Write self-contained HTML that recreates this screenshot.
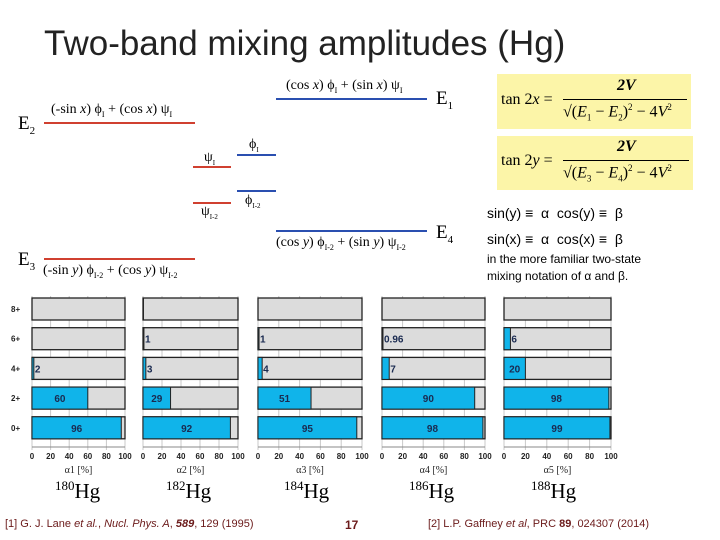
<!DOCTYPE html>
<html><head><meta charset="utf-8"><style>
body{margin:0;width:720px;height:540px;background:#fff;overflow:hidden;position:relative;font-family:"Liberation Sans",sans-serif}
.a{position:absolute;white-space:nowrap}
.s{font-family:"Liberation Serif",serif}
.ln{position:absolute;height:2px}
.box{position:absolute;background:#fcf5a8;font-family:"Liberation Serif",serif;font-size:16px}
</style></head><body>
<div class="a" style="left:44px;top:24px;font-size:35px;color:#222">Two-band mixing amplitudes (Hg)</div>

<div class="ln" style="left:276px;top:98px;width:151px;background:#2a4fb0"></div>
<div class="a s" style="left:286px;top:78px;font-size:14px">(cos <i>x</i>) ϕ<sub style="font-size:8px">I</sub> + (sin <i>x</i>) ψ<sub style="font-size:8px">I</sub></div>
<div class="a s" style="left:436px;top:88px;font-size:19px">E<sub style="font-size:11px">1</sub></div>

<div class="ln" style="left:44px;top:122px;width:151px;background:#d04030"></div>
<div class="a s" style="left:51px;top:102px;font-size:14px">(-sin <i>x</i>) ϕ<sub style="font-size:8px">I</sub> + (cos <i>x</i>) ψ<sub style="font-size:8px">I</sub></div>
<div class="a s" style="left:18px;top:113px;font-size:19px">E<sub style="font-size:11px">2</sub></div>

<div class="ln" style="left:237px;top:154px;width:39px;background:#2a4fb0"></div>
<div class="a s" style="left:249px;top:137px;font-size:14px">ϕ<sub style="font-size:7px">I</sub></div>
<div class="ln" style="left:193px;top:166px;width:38px;background:#d04030"></div>
<div class="a s" style="left:204px;top:150px;font-size:14px">ψ<sub style="font-size:7px">I</sub></div>
<div class="ln" style="left:237px;top:190px;width:39px;background:#2a4fb0"></div>
<div class="a s" style="left:245px;top:193px;font-size:14px">ϕ<sub style="font-size:7px">I-2</sub></div>
<div class="ln" style="left:193px;top:202px;width:38px;background:#d04030"></div>
<div class="a s" style="left:201px;top:204px;font-size:14px">ψ<sub style="font-size:7px">I-2</sub></div>

<div class="ln" style="left:276px;top:230px;width:151px;background:#2a4fb0"></div>
<div class="a s" style="left:276px;top:235px;font-size:14px">(cos <i>y</i>) ϕ<sub style="font-size:8px">I-2</sub> + (sin <i>y</i>) ψ<sub style="font-size:8px">I-2</sub></div>
<div class="a s" style="left:436px;top:222px;font-size:19px">E<sub style="font-size:11px">4</sub></div>

<div class="ln" style="left:44px;top:258px;width:151px;background:#d04030"></div>
<div class="a s" style="left:43px;top:263px;font-size:14px">(-sin <i>y</i>) ϕ<sub style="font-size:8px">I-2</sub> + (cos <i>y</i>) ψ<sub style="font-size:8px">I-2</sub></div>
<div class="a s" style="left:18px;top:249px;font-size:19px">E<sub style="font-size:11px">3</sub></div>

<div class="box" style="left:497px;top:74px;width:194px;height:55px">
<span class="a" style="left:4px;top:17px">tan 2<i>x</i> =</span>
<span class="a" style="left:120px;top:3px;font-weight:bold;font-style:italic">2V</span>
<span class="a" style="left:66px;top:25px;width:124px;border-top:1px solid #000"></span>
<span class="a" style="left:66px;top:28px">√(<i>E</i><sub style="font-size:9px">1</sub> − <i>E</i><sub style="font-size:9px">2</sub>)<sup style="font-size:9px">2</sup> − 4<i>V</i><sup style="font-size:9px">2</sup></span></div>
<div class="box" style="left:497px;top:136px;width:196px;height:54px">
<span class="a" style="left:4px;top:16px">tan 2<i>y</i> =</span>
<span class="a" style="left:120px;top:2px;font-weight:bold;font-style:italic">2V</span>
<span class="a" style="left:66px;top:24px;width:126px;border-top:1px solid #000"></span>
<span class="a" style="left:66px;top:27px">√(<i>E</i><sub style="font-size:9px">3</sub> − <i>E</i><sub style="font-size:9px">4</sub>)<sup style="font-size:9px">2</sup> − 4<i>V</i><sup style="font-size:9px">2</sup></span></div>

<div class="a" style="left:487px;top:205px;font-size:14px">sin(y) ≡ &nbsp;α &nbsp;cos(y) ≡ &nbsp;β</div>
<div class="a" style="left:487px;top:231px;font-size:14px">sin(x) ≡ &nbsp;α &nbsp;cos(x) ≡ &nbsp;β</div>
<div class="a" style="left:487px;top:251px;font-size:12px;line-height:17px">in the more familiar two-state<br>mixing notation of α and β.</div>

<svg id="ch" width="720" height="540" style="position:absolute;left:0;top:0" font-family="Liberation Sans, sans-serif"></svg>

<div class="a s" style="left:55px;top:478px;font-size:21px"><sup style="font-size:13px">180</sup>Hg</div>
<div class="a s" style="left:166px;top:478px;font-size:21px"><sup style="font-size:13px">182</sup>Hg</div>
<div class="a s" style="left:284px;top:478px;font-size:21px"><sup style="font-size:13px">184</sup>Hg</div>
<div class="a s" style="left:409px;top:478px;font-size:21px"><sup style="font-size:13px">186</sup>Hg</div>
<div class="a s" style="left:531px;top:478px;font-size:21px"><sup style="font-size:13px">188</sup>Hg</div>

<div class="a" style="left:5px;top:518px;font-size:11px;color:#6b1a1a">[1] G. J. Lane <i>et al.</i>, <i>Nucl. Phys. A</i>, <b><i>589</i></b>, 129 (1995)</div>
<div class="a" style="left:345px;top:518px;font-size:12px;font-weight:bold;color:#6b1a1a">17</div>
<div class="a" style="left:428px;top:518px;font-size:11px;color:#6b1a1a">[2] L.P. Gaffney <i>et al</i>, PRC <b>89</b>, 024307 (2014)</div>

<script>
const rows = ["8+","6+","4+","2+","0+"];
const ticks = [0,20,40,60,80,100];
const v180 = [0,0,2,60,96];
const v182 = [0.5,1,3,29,92];
const v184 = [0,1,4,51,95];
const v186 = [0,0.96,7,90,98];
const v188 = [0,6,20,98,99];
const lab180 = ["","","2","60","96"];
const lab182 = ["","1","3","29","92"];
const lab184 = ["","1","4","51","95"];
const lab186 = ["","0.96","7","90","98"];
const lab188 = ["","6","20","98","99"];
const series=[v180,v182,v184,v186,v188];
const labels=[lab180,lab182,lab184,lab186,lab188];
const panels=[[32,125],[143,238],[258,362],[382,485],[504,611]];
const svg=document.getElementById('ch');
const NS='http://www.w3.org/2000/svg';
function mk(t,a,p){const e=document.createElementNS(NS,t);for(const k in a)e.setAttribute(k,a[k]);(p||svg).appendChild(e);return e;}
function yC(i){return 309+i*29.7;}
panels.forEach((p,pi)=>{
  const x=v=>p[0]+(p[1]-p[0])*v/100;
  const g=mk('g',{});
  
  
  ticks.forEach(t=>{const l=mk('line',{x1:x(t),x2:x(t),y1:296,y2:450,stroke:'#c8c8c8','stroke-width':1},g);
    
    const tx=mk('text',{x:x(t),y:459,'font-size':8,'font-weight':'bold','text-anchor':'middle',fill:'#222'},g);tx.textContent=t;
    });
  mk('line',{x1:p[0],x2:p[1],y1:447,y2:447,stroke:'#888'},g);
  rows.forEach((r,i)=>{
    const v=series[pi][i],yc=yC(i),h=22;
    const bg=mk('rect',{x:x(0),y:yc-h/2,width:x(100)-x(0),height:h,fill:'#dcdcdc',stroke:'#222','stroke-width':1.3},g);
    
    const b=mk('rect',{x:x(0),y:yc-h/2,width:x(v)-x(0),height:h,fill:'#10b4ea',stroke:'#222','stroke-width':1},g);
    
    const L=labels[pi][i];
    if(L){const lx=v>15?(x(0)+x(v))/2:x(v)+1;
      const t=mk('text',{x:lx,y:yc+4,'font-size':10,'font-weight':'bold','text-anchor':v>15?'middle':'start',fill:'#1a2a50'},g);t.textContent=L;
      }
    if(pi===0){const t=mk('text',{x:11,y:yc+3,'font-size':8,'font-weight':'bold',fill:'#222'},g);t.textContent=r;
      }
  });
  const at=mk('text',{x:(p[0]+p[1])/2,y:473,'font-size':10,'text-anchor':'middle','font-family':'Liberation Serif, serif',fill:'#222'},g);
  at.textContent='α'+(pi+1)+' [%]';
  
});
</script>
</body></html>
